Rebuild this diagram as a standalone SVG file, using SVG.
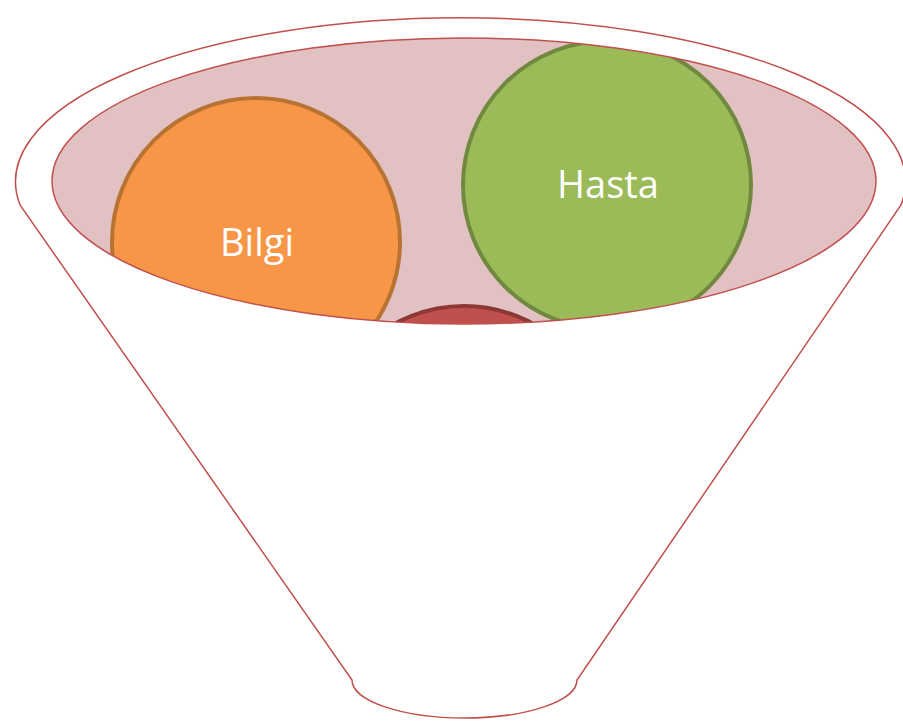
<svg xmlns="http://www.w3.org/2000/svg" width="903" height="724" viewBox="0 0 903 724">
  <style>
    .outline { fill: #FFFFFF; stroke: #C0504D; stroke-width: 1.5; }
    .rim { fill: none; stroke: #C0504D; stroke-width: 1.5; }
    .ball { stroke-width: 4; }
    .label { font-family: "Open Sans", "Liberation Sans", sans-serif; font-size: 38px; fill: #FFFFFF; text-anchor: middle; }
  </style>
  <defs>
    <clipPath id="mouth">
      <ellipse cx="464" cy="181" rx="412" ry="143"/>
    </clipPath>
  </defs>

  <!-- funnel body: outer rim arc, two sides and the rounded spout -->
  <path id="funnel" class="outline" d="M20,205 A445,164 0 1 1 901,205 L577,680 A112.5,38 0 0 1 352,680 Z"/>

  <!-- opening of the funnel -->
  <ellipse id="mouth-fill" cx="464" cy="181" rx="412" ry="143" fill="#E2C1C2"/>

  <g clip-path="url(#mouth)">
    <g id="node-red">
      <circle class="ball" cx="464" cy="450" r="144" fill="#C0504D" stroke="#8C3836"/>
    </g>
    <g id="node-bilgi">
      <circle class="ball" cx="256" cy="242" r="144" fill="#F79646" stroke="#B87333"/>
      <text class="label" x="257" y="256">Bilgi</text>
    </g>
    <g id="node-hasta">
      <circle class="ball" cx="607" cy="185" r="144" fill="#9BBB59" stroke="#71893F"/>
      <text class="label" x="608" y="198">Hasta</text>
    </g>
  </g>

  <ellipse id="mouth-rim" class="rim" cx="464" cy="181" rx="412" ry="143"/>
  <g id="connectors"/>
</svg>
